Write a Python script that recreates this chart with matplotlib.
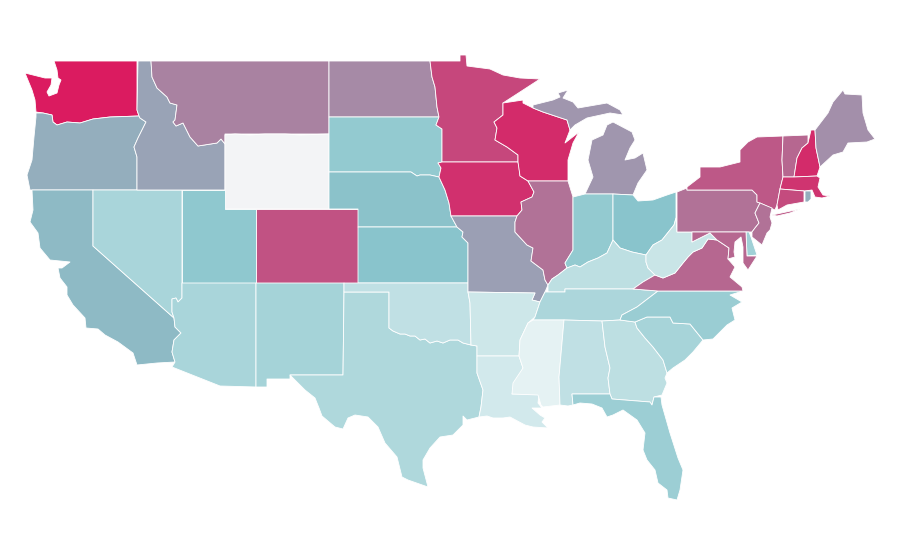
import numpy as np
import matplotlib
matplotlib.use('Agg')
import matplotlib.pyplot as plt
from matplotlib.collections import PolyCollection
from matplotlib.colors import LinearSegmentedColormap, TwoSlopeNorm

#%% values per state (Wyoming has no data)
states = ['WA','OR','CA','NV','ID','MT','WY','UT','CO','AZ','NM','TX','ND','SD','NE','KS','OK',
          'MN','IA','WI','MO','AR','LA','IL','MI','IN','OH','KY','TN','MS','AL','GA','FL','SC',
          'NC','VA','WV','PA','NY','VT','NH','ME','MA','CT','RI','NJ','DE','MD']
values = [100,56.8,53.5,33,60,69.7,np.nan,46.8,83.8,33,35,30,67.4,44.6,51,50,20.4,
          87,93.5,95.3,61,13.4,10.8,74.4,63.8,44.6,50,22,31,1,20.4,22,40,34,
          41,77.6,16,74.4,81.8,77.4,95.3,66,92.4,85.6,56.8,74.4,37.6,77.6]

#%% state outlines, traced in picture pixels
outlines = {
 'WA': [[(54,61),(137,61),(137,110),(139,116),(110,117),(93,119),(80,123),(67,122),(57,125),(53,122),(52,115),
         (43,113),(36,112),(35,100),(32,90),(25,73),(33,75),(45,78),(52,78),(51,85),(47,92),(49,96),(57,93),(59,85),
         (61,80),(58,78),(57,70)]],
 'OR': [[(36,113),(43,113),(52,115),(53,122),(57,125),(67,122),(80,123),(93,119),(110,117),(139,116),(140,118),
         (146,122),(143,128),(138,138),(134,147),(137,157),(137,190),(30,190),(27,175),(32,160),(34,137),(36,117)]],
 'CA': [[(32,190),(93,190),(93,246),(174,318),(175,327),(181,333),(174,340),(172,352),(175,362),(157,363),(137,365),
         (133,353),(118,342),(105,335),(98,329),(86,328),(85,318),(73,305),(67,295),(67,287),(60,278),(58,268),
         (62,268),(70,262),(60,261),(50,260),(40,248),(38,233),(30,222),(33,210)]],
 'NV': [[(93,190),(182,190),(182,298),(178,302),(176,298),(172,299),(172,312),(174,318),(93,246)]],
 'ID': [[(138,61),(151,61),(152,77),(157,88),(167,97),(170,103),(177,105),(175,120),(173,122),(176,126),(183,123),
         (190,137),(198,146),(217,143),(221,139),(225,144),(225,190),(137,190),(137,157),(134,147),(138,138),
         (143,128),(146,122),(140,118),(139,116),(137,110)]],
 'MT': [[(151,61),(329,61),(329,134),(225,134),(225,144),(221,139),(217,143),(198,146),(190,137),(183,123),(176,126),
         (173,122),(175,120),(177,105),(170,103),(167,97),(157,88),(152,77)]],
 'WY': [[(225,135),(235,134),(250,135),(265,134),(285,134),(300,135),(329,134),(329,209),(312,209),(290,209),(270,209),(256,209),(225,209)]],
 'UT': [[(182,190),(225,190),(225,209),(256,209),(256,283),(182,283)]],
 'CO': [[(256,209),(329,209),(358,209),(358,283),(256,283)]],
 'AZ': [[(182,283),(256,283),(256,387),(220,386),(172,367),(175,362),(172,352),(174,340),(181,333),(175,327),(174,318),
         (172,312),(172,299),(176,298),(178,302),(182,298)]],
 'NM': [[(256,283),(344,283),(344,292),(343,375),(290,375),(290,379),(267,379),(267,387),(256,387)]],
 'TX': [[(344,292),(389,292),(389,328),(393,331),(400,334),(405,334),(410,336),(415,336),(420,340),(425,339),(430,343),
         (437,341),(443,343),(450,340),(458,340),(463,343),(471,345),(477,346),(477,373),(483,390),(481,407),(479,417),
         (467,420),(463,416),(463,425),(453,435),(440,437),(430,448),(423,460),(423,468),(428,487),(408,480),(402,477),
         (397,457),(385,443),(378,427),(368,417),(355,415),(348,418),(343,429),(335,427),(322,416),(319,408),(315,398),
         (305,390),(295,380),(290,375),(343,375)]],
 'OK': [[(344,283),(468,283),(468,292),(470,303),(471,345),(463,343),(458,340),(450,340),(443,343),(437,341),(430,343),
         (425,339),(420,340),(415,336),(410,336),(405,334),(400,334),(393,331),(389,328),(389,292),(344,292)]],
 'ND': [[(329,61),(430,61),(432,77),(435,87),(437,107),(439,117),(329,117)]],
 'SD': [[(329,117),(439,117),(436,125),(442,129),(442,162),(438,163),(441,168),(439,177),(430,175),(420,175),(417,176),
         (411,172),(340,172),(329,172)]],
 'NE': [[(329,172),(340,172),(411,172),(417,176),(420,175),(430,175),(439,177),(445,190),(449,203),(451,216),(457,227),
         (358,227),(358,209),(329,209)]],
 'KS': [[(358,227),(457,227),(463,232),(462,237),(468,243),(468,283),(358,283)]],
 'MN': [[(430,61),(460,61),(460,55),(466,55),(467,66),(490,69),(503,75),(520,78),(540,79),(520,92),(503,103),(503,115),
         (494,122),(497,128),(495,140),(507,147),(518,155),(518,162),(442,162),(442,129),(436,125),(439,117),(437,107),
         (435,87),(432,77)]],
 'IA': [[(442,162),(518,162),(519,167),(520,176),(528,181),(534,192),(532,197),(521,202),(522,210),(517,216),(451,216),
         (449,203),(445,190),(439,177),(441,168),(438,163)]],
 'WI': [[(503,103),(523,100),(523,103),(533,108),(543,112),(567,120),(570,130),(565,143),(579,132),(573,143),(568,160),
         (568,181),(528,181),(520,176),(518,162),(518,155),(507,147),(495,140),(497,128),(494,122),(503,115)]],
 'MO': [[(451,216),(517,216),(515,222),(515,232),(527,245),(533,248),(531,261),(543,270),(545,280),(548,285),(545,292),
         (540,302),(532,300),(535,293),(468,292),(468,243),(462,237),(463,232),(457,227)]],
 'AR': [[(468,292),(535,293),(532,300),(540,302),(535,317),(528,323),(520,340),(519,356),(477,356),(477,346),(471,345),(470,303)]],
 'LA': [[(477,356),(519,356),(523,368),(512,394),(539,394),(538,403),(542,408),(532,408),(540,415),(545,418),(542,422),
         (548,428),(533,427),(525,425),(510,417),(503,418),(493,418),(487,416),(479,417),(481,407),(483,390),(477,373)]],
 'IL': [[(528,181),(568,181),(573,197),(573,250),(565,263),(567,268),(558,275),(552,279),(548,285),(545,280),
         (543,270),(531,261),(533,248),(527,245),(515,232),(515,222),(517,216),(522,210),(521,202),(532,197),(534,192)]],
 'IN': [[(573,197),(585,194),(613,194),(613,240),(607,253),(598,258),(588,262),(580,267),(575,265),(567,268),(565,263),(573,250)]],
 'OH': [[(613,194),(633,195),(638,201),(653,200),(667,195),(676,192),(676,218),(674,225),(662,240),(653,245),(646,255),
         (632,252),(620,248),(613,240)]],
 'MI': [[(613,122),(632,132),(635,140),(630,148),(625,160),(635,158),(643,153),(647,170),(638,183),(633,195),(613,194),
         (585,194),(593,177),(588,160),(592,140),(603,135),(607,125)],
        [(533,108),(533,105),(553,100),(560,97),(558,93),(568,90),(563,98),(573,102),(578,108),(607,103),(620,110),(623,115),
         (610,113),(587,118),(575,125),(570,130),(567,120),(543,112)]],
 'KY': [[(548,285),(548,292),(565,292),(565,289),(633,289),(643,282),(655,275),(648,268),(646,262),(646,255),(632,252),
         (620,248),(613,240),(607,253),(598,258),(588,262),(580,267),(575,265),(567,268),(558,275),(552,279)]],
 'TN': [[(533,320),(535,317),(540,302),(545,292),(548,292),(565,292),(565,289),(633,289),(658,291),(637,307),(622,315),
         (620,320),(602,321),(564,320)]],
 'MS': [[(533,320),(564,320),(559,377),(560,405),(543,407),(541,405),(538,395),(512,394),(513,383),(523,368),(519,356),(520,340),(528,323)]],
 'AL': [[(564,320),(602,321),(605,347),(610,368),(608,378),(610,394),(572,394),(573,405),(568,406),(560,405),(559,377)]],
 'GA': [[(602,321),(620,320),(635,322),(637,328),(645,338),(653,347),(663,360),(667,373),(665,378),(667,383),(662,395),(654,397),
         (652,405),(650,402),(612,399),(610,394),(608,378),(610,368),(605,347)]],
 'FL': [[(572,394),(610,394),(612,399),(650,402),(652,405),(654,397),(661,397),(662,405),(670,433),(678,458),(683,470),
         (680,490),(677,500),(668,498),(667,490),(658,483),(655,470),(647,460),(643,450),(645,433),(637,420),(623,410),
         (613,415),(607,417),(602,408),(592,404),(580,403),(573,405)]],
 'SC': [[(635,322),(647,317),(670,317),(673,323),(690,324),(703,340),(693,352),(685,360),(673,368),(667,373),(663,360),
         (653,347),(645,338),(637,328)]],
 'NC': [[(658,291),(743,291),(730,295),(742,302),(732,308),(735,320),(727,325),(713,339),(703,340),(690,324),(673,323),
         (670,317),(647,317),(635,322),(620,320),(622,315),(637,307)]],
 'VA': [[(633,289),(643,282),(655,275),(663,278),(675,273),(683,263),(688,257),(693,252),(702,248),(708,239),(717,240),
         (729,248),(728,259),(735,267),(730,277),(742,287),(743,291),(658,291)]],
 'WV': [[(676,218),(677,232),(692,232),(692,242),(700,238),(710,233),(717,240),(708,239),(702,248),(693,252),(688,257),
         (683,263),(675,273),(663,278),(655,275),(648,268),(646,262),(646,255),(653,245),(662,240),(674,225)]],
 'PA': [[(677,192),(687,188),(687,190),(752,190),(757,195),(757,202),(760,203),(755,213),(759,223),(755,228),(752,232),(677,232)]],
 'NY': [[(687,190),(752,190),(757,195),(757,202),(760,203),(775,210),(777,205),(780,189),(783,177),(782,160),(783,136),(757,137),(748,142),
         (740,150),(740,162),(720,167),(700,167),(700,177),(687,187)],
        [(772,215),(800,209),(790,213),(777,216)]],
 'NJ': [[(760,203),(772,208),(770,217),(772,223),(770,230),(767,233),(762,245),(752,237),(752,232),(755,228),(759,223),(755,213)]],
 'DE': [[(746,232),(749,232),(751,237),(757,255),(747,256)]],
 'MD': [[(692,232),(746,232),(747,256),(757,256),(748,270),(743,263),(743,247),(741,237),(735,242),(734,252),(735,257),
         (728,259),(729,248),(717,240),(710,233),(700,238),(692,242)]],
 'VT': [[(783,136),(808,135),(808,143),(802,148),(797,158),(794,177),(783,177),(782,160)]],
 'NH': [[(811,130),(815,130),(816,148),(820,167),(817,176),(794,177),(797,158),(802,148),(808,143)]],
 'ME': [[(843,90),(845,94),(862,95),(863,113),(868,130),(875,139),(867,142),(848,143),(843,152),(833,155),(820,167),
         (816,148),(815,130),(828,113),(833,102)]],
 'MA': [[(783,177),(794,177),(817,176),(820,178),(818,187),(823,195),(830,196),(822,198),(815,197),(812,190),(805,191),(780,189)]],
 'CT': [[(780,189),(804,191),(804,202),(787,205),(778,210),(777,205)]],
 'RI': [[(805,191),(811,191),(811,199),(808,202),(805,202)]],
}

#%% colour scale: pale teal -> teal -> pink, grey for missing
cmap = LinearSegmentedColormap.from_list('teal_pink', ['#e6f3f4', '#89c5cc', '#db1b60'])
cmap.set_bad('#f3f4f6')
norm = TwoSlopeNorm(vmin=0, vcenter=50, vmax=100)

verts = []
poly_values = []
for name, val in zip(states, values):
    for part in outlines[name]:
        verts.append(part)
        poly_values.append(val)

fig = plt.figure(figsize=(9, 5.6), dpi=100)
ax = fig.add_axes([0, 0, 1, 1])
polys = PolyCollection(verts, array=np.ma.masked_invalid(poly_values), cmap=cmap, norm=norm,
                       edgecolors='white', linewidths=0.6)
ax.add_collection(polys)
ax.set_xlim(0, 900)
ax.set_ylim(560, 0)
ax.axis('off')
fig.savefig('out.png', dpi=100, facecolor='white')
